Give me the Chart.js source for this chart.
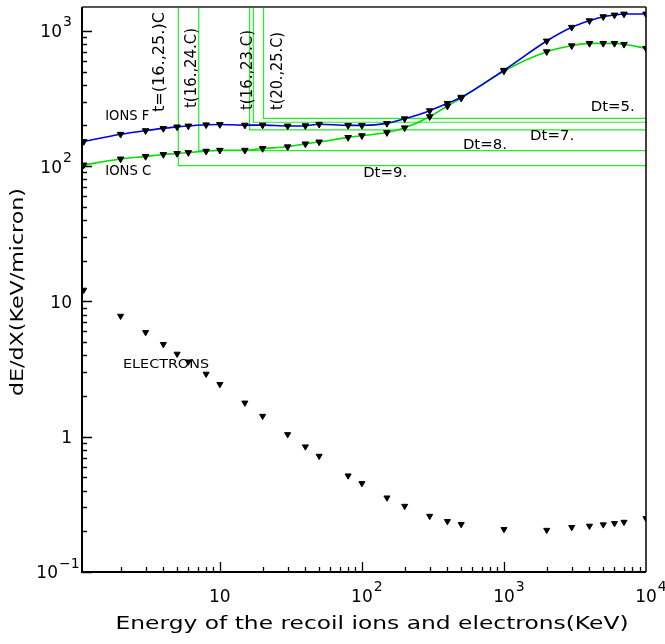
<!DOCTYPE html>
<html>
<head>
<meta charset="utf-8">
<script src="https://cdn.jsdelivr.net/npm/chart.js@4.4.0/dist/chart.umd.min.js"></script>
<style>
  html, body { margin: 0; padding: 0; background: #fff; }
</style>
</head>
<body>
<canvas id="chart" width="665" height="644"></canvas>
<script>
// energies (KeV), same for every series
const energy = [1.1, 2, 3, 4, 5, 6, 8, 10, 15, 20, 30, 40, 50, 80, 100, 150, 200, 300, 400, 500,
                1000, 2000, 3000, 4000, 5000, 6000, 7000, 10000];
// dE/dX in KeV/micron
const ionsF = [152, 172, 183, 190, 195, 198, 202, 203, 201, 201, 198, 199, 204, 200, 200, 207, 224, 257, 291, 323,
               511, 841, 1062, 1188, 1272, 1309, 1331, 1331];
const ionsC = [102, 113, 118, 122, 124, 126, 129, 131, 131, 135, 139, 146, 151, 163, 168, 177, 192, 232, 278, 318,
               505, 701, 776, 808, 808, 808, 795, 743];
const electrons = [12.15, 7.8, 5.91, 4.82, 4.09, 3.58, 2.91, 2.44, 1.78, 1.42, 1.04, 0.844, 0.72, 0.515, 0.452, 0.354,
                   0.307, 0.259, 0.237, 0.225, 0.207, 0.204, 0.214, 0.219, 0.224, 0.229, 0.234, 0.249];

// Dt threshold boxes: corner energy and level
const dtEnergy = [5.1, 7.1, 16.2, 17.2, 20.3];
const dtLevel = [100.7, 130, 185, 211, 225.6];

// text labels placed in data units
const noteText = ['IONS F', 'IONS C', 'ELECTRONS', 'Dt=9.', 'Dt=8.', 'Dt=7.', 'Dt=5.'];
const noteX = [1.56, 1.56, 2.08, 102, 514, 1528, 4087];
const noteY = [232, 91, 3.39, 89, 142.5, 165, 272];
const tagText = ['t=(16.,25.)C', 't(16.,24.C)', 't(16.,23.C)', 't(20.,25.C)'];
const tagX = [3.8, 6.36, 15.9, 25.9];
const tagY = [251, 269, 260, 260];

// axis ticks
const xMajor = [10, 100, 1000, 10000];
const xMajorExp = ['', '2', '3', '4'];
const yMajor = [0.1, 1, 10, 100, 1000];
const yMajorBase = ['10', '1', '10', '10', '10'];
const yMajorExp = ['\u22121', '', '', '2', '3'];

const FONT = '"DejaVu Sans", sans-serif';

function pts(ys) {
    return energy.map((e, i) => ({ x: e, y: ys[i] }));
}

function putText(ctx, text, x, y, size, width, align, rot) {
    ctx.save();
    ctx.font = size + 'px ' + FONT;
    const w = ctx.measureText(text).width;
    ctx.translate(x, y);
    if (rot) ctx.rotate(-Math.PI / 2);
    ctx.scale(width ? width / w : 1, 1);
    ctx.textAlign = align || 'left';
    ctx.textBaseline = 'middle';
    ctx.fillStyle = '#000';
    ctx.fillText(text, 0, 0);
    ctx.restore();
}

const datasets = [
    {
        data: pts(ionsF), borderColor: '#0000e6', borderWidth: 1.6,
        cubicInterpolationMode: 'monotone',
        pointStyle: 'triangle', pointRotation: 180, pointRadius: 3.8,
        pointBackgroundColor: '#000', pointBorderColor: '#000', pointBorderWidth: 1
    },
    {
        data: pts(ionsC), borderColor: '#00e000', borderWidth: 1.6,
        cubicInterpolationMode: 'monotone',
        pointStyle: 'triangle', pointRotation: 180, pointRadius: 3.8,
        pointBackgroundColor: '#000', pointBorderColor: '#000', pointBorderWidth: 1
    },
    {
        data: pts(electrons), showLine: false,
        pointStyle: 'triangle', pointRotation: 180, pointRadius: 3.5,
        pointBackgroundColor: '#000', pointBorderColor: '#000', pointBorderWidth: 1
    }
];
dtEnergy.forEach((e, i) => {
    datasets.push({
        data: [{ x: e, y: 1500 }, { x: e, y: dtLevel[i] }, { x: 10000, y: dtLevel[i] }],
        borderColor: '#22ee22', borderWidth: 1.2, pointRadius: 0, tension: 0
    });
});

const decor = {
    id: 'decor',
    afterDraw(chart) {
        const ctx = chart.ctx;
        const xs = chart.scales.x, ys = chart.scales.y;
        const a = chart.chartArea;

        // frame
        ctx.save();
        ctx.strokeStyle = '#555';
        ctx.lineWidth = 2;
        ctx.beginPath(); ctx.moveTo(a.left, a.top); ctx.lineTo(a.right, a.top); ctx.stroke();
        ctx.strokeStyle = '#000';
        ctx.lineWidth = 1.5;
        ctx.beginPath(); ctx.moveTo(a.right, a.top); ctx.lineTo(a.right, a.bottom); ctx.stroke();
        ctx.lineWidth = 2;
        ctx.beginPath();
        ctx.moveTo(a.left, a.top); ctx.lineTo(a.left, a.bottom); ctx.lineTo(a.right, a.bottom);
        ctx.stroke();

        // ticks, pointing into the plot
        ctx.lineWidth = 1.3;
        ctx.beginPath();
        for (let d = 1; d <= 1000; d *= 10) {
            for (let m = 1; m <= 9; m++) {
                const v = d * m;
                if (v < xs.min) continue;
                const px = Math.round(xs.getPixelForValue(v)) + 0.5;
                const len = m === 1 ? 10 : 5;
                ctx.moveTo(px, a.bottom); ctx.lineTo(px, a.bottom - len);
            }
        }
        for (let d = 0.1; d <= 1000; d *= 10) {
            for (let m = 1; m <= 9; m++) {
                const v = d * m;
                if (v > ys.max) continue;
                const py = Math.round(ys.getPixelForValue(v)) + 0.5;
                const len = m === 1 ? 10 : 5;
                ctx.moveTo(a.left, py); ctx.lineTo(a.left + len, py);
            }
        }
        ctx.stroke();
        ctx.restore();

        // tick labels
        ctx.save();
        ctx.fillStyle = '#000';
        ctx.textBaseline = 'middle';
        xMajor.forEach((v, i) => {
            const px = xs.getPixelForValue(v);
            ctx.font = '17px ' + FONT;
            ctx.textAlign = 'center';
            ctx.fillText('10', px, 598);
            if (xMajorExp[i]) {
                const w = ctx.measureText('10').width;
                ctx.font = '14px ' + FONT;
                ctx.textAlign = 'left';
                ctx.fillText(xMajorExp[i], px + w / 2 + 1, 587);
            }
        });
        yMajor.forEach((v, i) => {
            const py = ys.getPixelForValue(v);
            const exp = yMajorExp[i];
            ctx.font = '17px ' + FONT;
            ctx.textAlign = 'right';
            const right = exp ? (exp.length > 1 ? 58 : 62) : 72;
            ctx.fillText(yMajorBase[i], right, py + 2);
            if (exp) {
                ctx.font = '14px ' + FONT;
                ctx.textAlign = 'left';
                ctx.fillText(exp, right + 1, py - 8);
            }
        });
        ctx.restore();

        // axis titles
        putText(ctx, 'Energy of the recoil ions and electrons(KeV)', 372, 624, 18, 513, 'center');
        putText(ctx, 'dE/dX(KeV/micron)', 18, 292, 18, 208, 'center', true);

        // annotations
        const noteSize = [14, 14, 12.5, 14, 14, 14, 14];
        const noteW = [44, 46, 86, 44, 44, 44, 44];
        noteText.forEach((t, i) => {
            putText(ctx, t, xs.getPixelForValue(noteX[i]), ys.getPixelForValue(noteY[i]),
                    noteSize[i], noteW[i], 'left');
        });
        const tagW = [100, 80, 80, 78];
        tagText.forEach((t, i) => {
            putText(ctx, t, xs.getPixelForValue(tagX[i]), ys.getPixelForValue(tagY[i]),
                    15, tagW[i], 'left', true);
        });
    }
};

new Chart(document.getElementById('chart').getContext('2d'), {
    type: 'line',
    data: { datasets: datasets },
    options: {
        responsive: false,
        animation: false,
        layout: { padding: { left: 82, right: 19, top: 7, bottom: 72 } },
        plugins: { legend: { display: false }, tooltip: { enabled: false } },
        scales: {
            x: { type: 'logarithmic', min: 1.07, max: 10000, display: false },
            y: { type: 'logarithmic', min: 0.1, max: 1500, display: false }
        }
    },
    plugins: [decor]
});
</script>
</body>
</html>
